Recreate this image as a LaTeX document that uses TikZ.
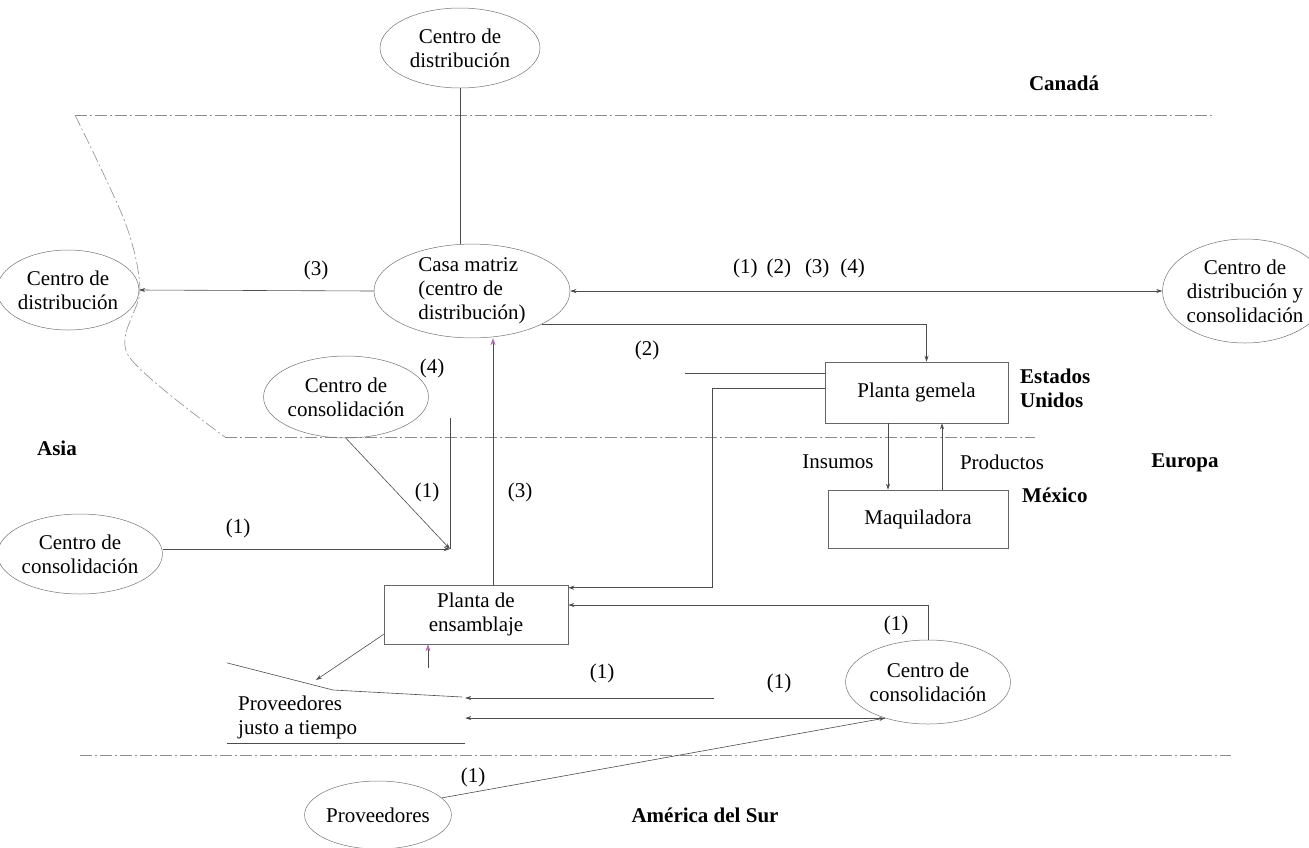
\documentclass[tikz,border=0pt]{standalone}
\usepackage{fontspec}
\setmainfont{Liberation Serif}
\usetikzlibrary{shapes.geometric,arrows.meta,calc}
\begin{document}
\begin{tikzpicture}[x=1pt,y=-1pt,
  font=\fontsize{21}{24}\selectfont,
  ell/.style={ellipse,draw=black!55,line width=0.5pt,inner sep=0pt,align=center},
  conn/.style={draw=black!70,line width=0.6pt},
  arr/.style={conn,-{Stealth[length=6pt,width=4pt]}},
  darr/.style={conn,{Stealth[length=6pt,width=4pt]}-{Stealth[length=6pt,width=4pt]}},
  parr/.style={conn,-{Stealth[length=7pt,width=5pt,color=violet!60]}},
  border/.style={draw=black!45,line width=0.6pt,dash pattern=on 12pt off 3pt on 2pt off 3pt},
  region/.style={font=\fontsize{21}{24}\selectfont\bfseries,align=left,inner sep=0pt},
  lbl/.style={inner sep=0pt},
  boxn/.style={draw=black!60,line width=0.6pt,inner sep=0pt,align=center}
]
\useasboundingbox (0,0) rectangle (1309,847);

% region borders
\draw[border] (75,115) -- (1215,115);
\draw[border] plot[smooth] coordinates {(75,115) (125,222) (140,290) (128,355) (225,437)};
\draw[border] (225,437) -- (1035,437);
\draw[border] (80,755) -- (1231,755);

% nodes
\node[ell,minimum width=160pt,minimum height=80pt] (cdTop) at (460,48) {Centro de\\distribución};
\node[ell,minimum width=196pt,minimum height=92pt,align=left] (casa) at (472,291) {Casa matriz\\(centro de\\distribución)};
\node[ell,minimum width=140pt,minimum height=80pt] (cdAsia) at (68,290) {Centro de\\distribución};
\node[ell,minimum width=160pt,minimum height=104pt] (cdEur) at (1245,291) {Centro de\\distribución y\\consolidación};
\node[ell,minimum width=150pt,minimum height=82pt] (cdCons) at (346,397) {Centro de\\consolidación};
\node[ell,minimum width=150pt,minimum height=80pt] (consAsia) at (80,554) {Centro de\\consolidación};
\node[ell,minimum width=160pt,minimum height=84pt] (consSur) at (928,682) {Centro de\\consolidación};
\node[ell,minimum width=132pt,minimum height=68pt] (prov) at (378,815) {Proveedores};

\node[boxn,minimum width=183pt,minimum height=61pt] (gem) at (916.5,392.5) {Planta gemela};
\node[boxn,minimum width=180pt,minimum height=58pt] (maq) at (918,519) {Maquiladora};
\node[boxn,minimum width=184pt,minimum height=59pt] (ensam) at (476,614.5) {Planta de\\ensamblaje};
\node[minimum width=238pt,minimum height=80pt,inner sep=0pt] (jit) at (346,703) {};
\node[lbl,anchor=west,align=left] (jitT) at (238,717) {Proveedores\\justo a tiempo};
\draw[conn] (jit.north west) -- (333,690) -- (462,697);
\draw[conn] (jit.south west) -- (jit.south east);

% region labels
\node[region] (canada) at (1064,83) {Canadá};
\node[region,anchor=west] (eu) at (1020,388) {Estados\\Unidos};
\node[region,anchor=west] (mex) at (1022,495) {México};
\node[region] (europa) at (1185,463) {Europa};
\node[region] (asia) at (57,448) {Asia};
\node[region] (sur) at (705,815) {América del Sur};

% flow labels
\node[lbl] (l3a) at (316,270) {(3)};
\node[lbl] (l1234) at (799,268) {(1)\hspace{9pt}(2)\hspace{14pt}(3)\hspace{11pt}(4)};
\node[lbl] (l2) at (647,350) {(2)};
\node[lbl] (l4) at (432,368) {(4)};
\node[lbl] (l1a) at (427,492) {(1)};
\node[lbl] (l3b) at (520,492) {(3)};
\node[lbl] (l1b) at (238,528) {(1)};
\node[lbl] (l1c) at (896,625) {(1)};
\node[lbl] (l1d) at (602,673) {(1)};
\node[lbl] (l1e) at (779,683) {(1)};
\node[lbl] (l1f) at (473,777) {(1)};
\node[lbl] (ins) at (838,462) {Insumos};
\node[lbl] (pro) at (1002,462) {Productos};

% connectors
\draw[conn] (cdTop.south) -- (cdTop.south |- casa.north);
\draw[arr] (casa.west) -- (cdAsia.east);
\draw[darr] (casa.east) -- (cdEur.west);
\draw[arr] (casa.-25) -| ($(gem.north)+(10,0)$);
\coordinate (c2) at (685,373);
\draw[conn] (c2) -- (c2 -| gem.west);
\coordinate (k1) at (712,388);
\draw[arr] (gem.west |- k1) -- (k1) |- ($(ensam.north east)+(0,3)$);
\draw[arr] ($(gem.south)+(-28.5,0)$) -- ($(maq.north)+(-30,0)$);
\draw[arr] ($(maq.north)+(24,0)$) -- ($(gem.south)+(25.5,0)$);
\coordinate (e3) at ($(ensam.north)+(17,0)$);
\draw[parr] (e3) -- (e3 |- casa.south);
\coordinate (J) at (450,549);
\coordinate (v1) at (450,418);
\draw[conn] (v1) -- (J);
\draw[arr] (consAsia.east |- J) -- (J);
\draw[arr] (cdCons.south) -- (J);
\draw[arr] (consSur.north) |- ($(ensam.east)+(0,-9.5)$);
\coordinate (c5) at (714,698);
\draw[arr] (c5) -- (c5 -| jit.east);
\draw[arr] (consSur.-140) -- (consSur.-140 -| jit.east);
\draw[arr] (prov.15) -- (consSur.-140);
\coordinate (c6) at (316,680);
\draw[arr] ($(ensam.south west)+(0,-10)$) -- (c6);
\coordinate (c7) at (428,668);
\draw[parr] (c7) -- (c7 |- ensam.south);
\end{tikzpicture}
\end{document}
